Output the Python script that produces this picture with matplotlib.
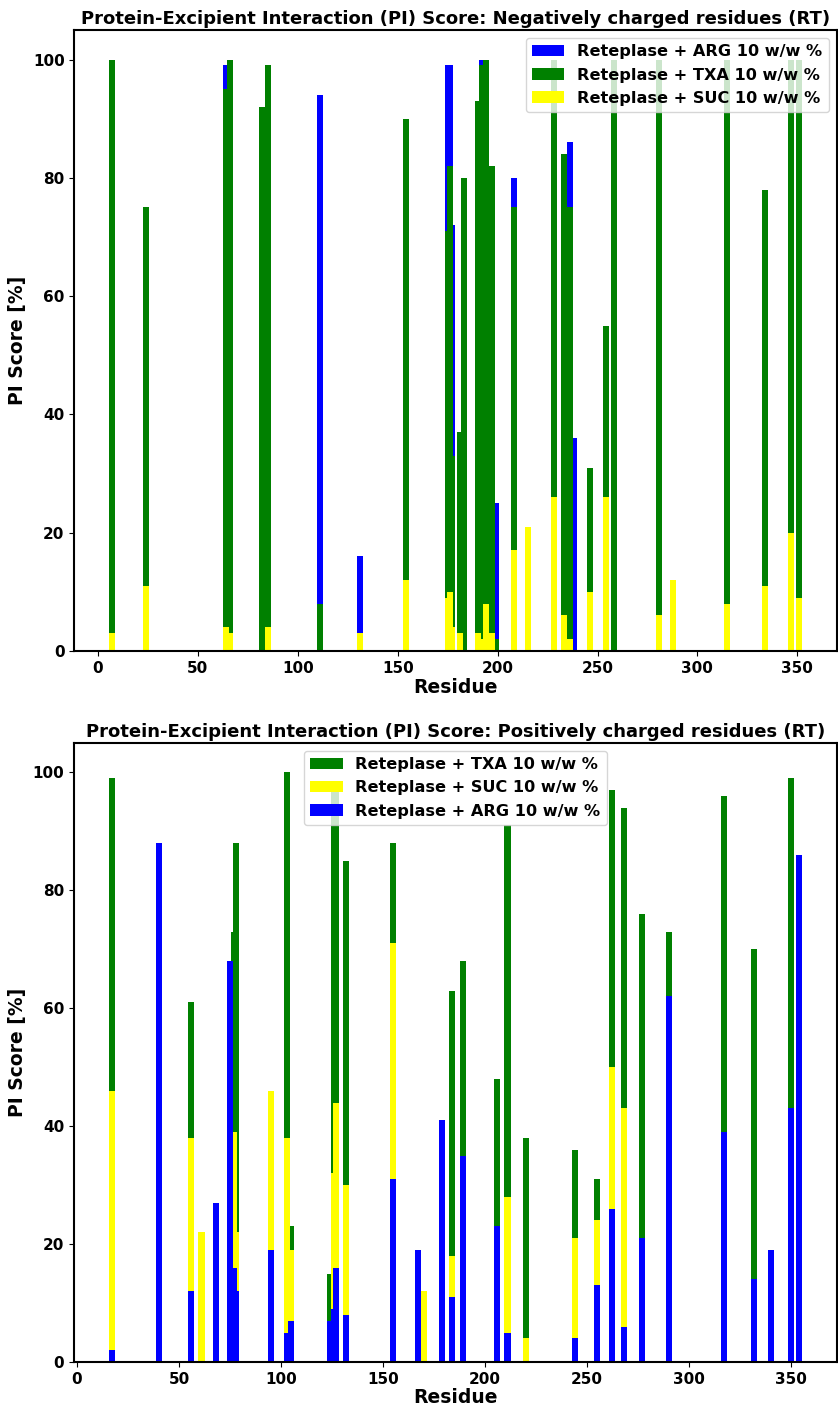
import numpy as np
import matplotlib
matplotlib.use("Agg")
import matplotlib.pyplot as plt

# Negatively charged residues (top panel)
neg_residue = [7, 24, 64, 66, 82, 85, 111, 131, 154, 175, 176, 177, 181, 183,
               190, 192, 194, 197, 199, 208, 215, 228, 233, 236, 238, 246, 254,
               258, 281, 288, 315, 334, 347, 351]
neg_arg = [0, 0, 99, 0, 0, 0, 94, 16, 0, 99, 99, 72, 0, 0,
           0, 100, 0, 0, 25, 80, 0, 0, 0, 86, 36, 0, 0,
           0, 0, 0, 0, 0, 0, 0]
neg_txa = [100, 75, 95, 100, 92, 99, 8, 0, 90, 71, 82, 33, 37, 80,
           93, 99, 100, 82, 2, 75, 0, 100, 84, 75, 0, 31, 55,
           100, 100, 0, 100, 78, 100, 100]
neg_suc = [3, 11, 4, 3, 0, 4, 0, 3, 12, 9, 10, 4, 3, 0,
           3, 2, 8, 3, 0, 17, 21, 26, 6, 2, 0, 10, 26,
           0, 6, 12, 8, 11, 20, 9]

# Positively charged residues (bottom panel)
pos_residue = [17, 40, 56, 61, 68, 75, 77, 78, 95, 103, 105, 124, 126, 127,
               132, 155, 167, 170, 179, 184, 189, 206, 211, 220, 244, 255,
               262, 268, 277, 290, 317, 332, 340, 350, 354]
pos_txa = [99, 0, 61, 0, 0, 0, 73, 88, 0, 100, 23, 15, 97, 97,
           85, 88, 0, 0, 0, 63, 68, 48, 91, 38, 36, 31,
           97, 94, 76, 73, 96, 70, 0, 99, 0]
pos_suc = [46, 0, 38, 22, 0, 0, 39, 22, 46, 38, 19, 0, 32, 44,
           30, 71, 0, 12, 0, 18, 0, 0, 28, 4, 21, 24,
           50, 43, 0, 0, 0, 0, 0, 0, 0]
pos_arg = [2, 88, 12, 0, 27, 68, 16, 12, 19, 5, 7, 7, 9, 16,
           8, 31, 19, 0, 41, 11, 35, 23, 5, 0, 4, 13,
           26, 6, 21, 62, 39, 14, 19, 43, 86]

bar_w = 3
bold = {"fontweight": "bold"}

fig = plt.figure(figsize=(8.38, 14.06), dpi=100)
ax1 = fig.add_axes([0.0887, 0.537, 0.9101, 0.4417])
ax2 = fig.add_axes([0.0883, 0.0313, 0.9105, 0.4403])

# Top: ARG first, then TXA, then SUC on top
ax1.bar(neg_residue, neg_arg, width=bar_w, color="blue", label="Reteplase + ARG 10 w/w %")
ax1.bar(neg_residue, neg_txa, width=bar_w, color="green", label="Reteplase + TXA 10 w/w %")
ax1.bar(neg_residue, neg_suc, width=bar_w, color="yellow", label="Reteplase + SUC 10 w/w %")
ax1.set_title("Protein-Excipient Interaction (PI) Score: Negatively charged residues (RT)",
              fontsize=13, pad=4, **bold)
ax1.set_xlabel("Residue", fontsize=13.5, labelpad=2, **bold)
ax1.set_ylabel("PI Score [%]", fontsize=13.5, **bold)
ax1.legend(loc="upper right", prop={"weight": "bold", "size": 11.6})

# Bottom: TXA first, then SUC, then ARG on top
ax2.bar(pos_residue, pos_txa, width=bar_w, color="green", label="Reteplase + TXA 10 w/w %")
ax2.bar(pos_residue, pos_suc, width=bar_w, color="yellow", label="Reteplase + SUC 10 w/w %")
ax2.bar(pos_residue, pos_arg, width=bar_w, color="blue", label="Reteplase + ARG 10 w/w %")
ax2.set_title("Protein-Excipient Interaction (PI) Score: Positively charged residues (RT)",
              fontsize=13, pad=4, **bold)
ax2.set_xlabel("Residue", fontsize=13.5, labelpad=1, **bold)
ax2.set_ylabel("PI Score [%]", fontsize=13.5, **bold)
ax2.legend(loc="upper center", prop={"weight": "bold", "size": 11.6})

for ax in (ax1, ax2):
    for lab in ax.get_xticklabels() + ax.get_yticklabels():
        lab.set_fontweight("bold")
        lab.set_fontsize(11)
    for sp in ax.spines.values():
        sp.set_linewidth(1.5)

fig.savefig("out.png", dpi=100)
